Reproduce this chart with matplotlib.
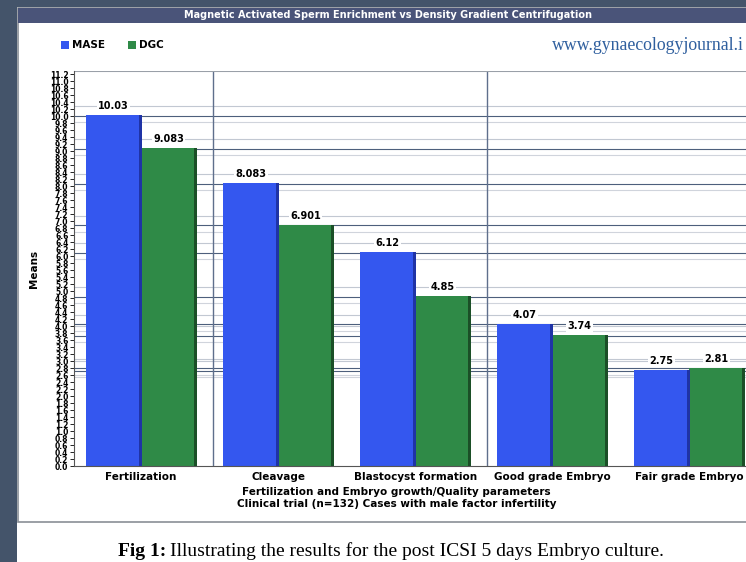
import numpy as np
import matplotlib.pyplot as plt
from matplotlib.patches import Rectangle

categories = ['Fertilization', 'Cleavage', 'Blastocyst formation',
              'Good grade Embryo', 'Fair grade Embryo']
mase = [10.03, 8.083, 6.12, 4.07, 2.75]
dgc = [9.083, 6.901, 4.85, 3.74, 2.81]
mase_labels = ['10.03', '8.083', '6.12', '4.07', '2.75']
dgc_labels = ['9.083', '6.901', '4.85', '3.74', '2.81']
yticks = np.round(np.arange(0, 11.21, 0.2), 1)

W, H = 746, 562
fig = plt.figure(figsize=(W / 100, H / 100), dpi=100)
fig.patch.set_facecolor('white')

def px(x0, y0, w, h, **kw):
    # rectangle in pixel coords (top-left origin)
    r = Rectangle((x0 / W, 1 - (y0 + h) / H), w / W, h / H,
                  transform=fig.transFigure, zorder=-5, **kw)
    fig.add_artist(r)

# page background and panel
px(0, 0, 17, H, color='#44546a', lw=0)
px(0, 0, W, 7, color='#44546a', lw=0)
px(18, 8, 760, 514, facecolor='white', edgecolor='#8a8f96', lw=1.2)
px(18, 8, 760, 15, color='#4a5479', lw=0)
fig.text(388 / W, 1 - 15.5 / H,
         'Magnetic Activated Sperm Enrichment vs Density Gradient Centrifugation',
         color='white', fontsize=7, fontweight='bold', ha='center', va='center')

# legend
px(61, 41, 8, 8, color='#3457ef', lw=0)
fig.text(72 / W, 1 - 45.5 / H, 'MASE', fontsize=7.5, fontweight='bold', va='center')
px(128, 41, 8, 8, color='#2f8a47', lw=0)
fig.text(139 / W, 1 - 45.5 / H, 'DGC', fontsize=7.5, fontweight='bold', va='center')
fig.text(744 / W, 1 - 45 / H, 'www.gynaecologyjournal.i', family='Liberation Serif',
         fontsize=12.8, color='#2f5f9e', va='center', ha='right')

ax = fig.add_axes([74 / W, 1 - 466 / H, 1 - 74 / W, (466 - 71) / H])
ax.set_zorder(2)
ax.patch.set_alpha(0)
x = np.arange(len(categories))
bw = 0.4
ax.set_xlim(-0.49, 4.415)
ax.set_ylim(0, 11.3)

# grid lines around the bar levels
for v in mase + dgc:
    ax.axhline(v + 0.26, color='#c2c8d2', lw=0.8, zorder=0)
    ax.axhline(v - 0.2, color='#d0d4dc', lw=0.8, zorder=0)
    ax.axhline(v - 0.02, color='#4d5f7c', lw=0.8, zorder=0)
for xv in [0.526, 2.526]:
    ax.axvline(xv, color='#5f6f8c', lw=1.0, zorder=0)
ax.axhline(11.3, color='#9aa0a8', lw=1.5, zorder=0)

ax.bar(x - bw / 2, mase, bw, color='#3457ef', zorder=2)
ax.bar(x + bw / 2, dgc, bw, color='#2f8a47', zorder=2)
# shaded side for a slight 3D look
ax.bar(x - 0.005, mase, 0.02, color='#1f33a6', zorder=3)
ax.bar(x + bw - 0.005, dgc, 0.02, color='#1b4f27', zorder=3)

for xs, vals, labs in [(x - bw / 2, mase, mase_labels), (x + bw / 2, dgc, dgc_labels)]:
    for xi, v, lab in zip(xs, vals, labs):
        ax.text(xi, v + 0.26, lab, ha='center', va='center', fontsize=7,
                fontweight='bold', zorder=4,
                bbox=dict(facecolor='white', edgecolor='none', pad=1))

ax.set_xticks(x)
ax.set_xticklabels(categories, fontsize=7.5, fontweight='bold')
ax.tick_params(axis='x', length=0, pad=4)
ax.set_yticks(yticks)
ax.set_yticklabels([f'{t:.1f}' for t in yticks], fontsize=5.5, fontweight='bold')
ax.tick_params(axis='y', length=3, width=0.6, pad=1)
ax.set_ylabel('Means', fontsize=7.5, fontweight='bold', labelpad=8)
ax.set_xlabel('Fertilization and Embryo growth/Quality parameters\n'
              'Clinical trial (n=132) Cases with male factor infertility',
              fontsize=7.5, fontweight='bold', labelpad=4, x=0.48)
for s in ['top', 'right']:
    ax.spines[s].set_visible(False)
ax.spines['left'].set_color('#555555')
ax.spines['bottom'].set_color('#555555')

fig.text(118 / W, 1 - 551 / H, 'Fig 1:', family='Liberation Serif',
         fontweight='bold', fontsize=14, va='center')
fig.text(170 / W, 1 - 551 / H,
         'Illustrating the results for the post ICSI 5 days Embryo culture.',
         family='Liberation Serif', fontsize=14, va='center')

fig.savefig('out.png', dpi=100)
